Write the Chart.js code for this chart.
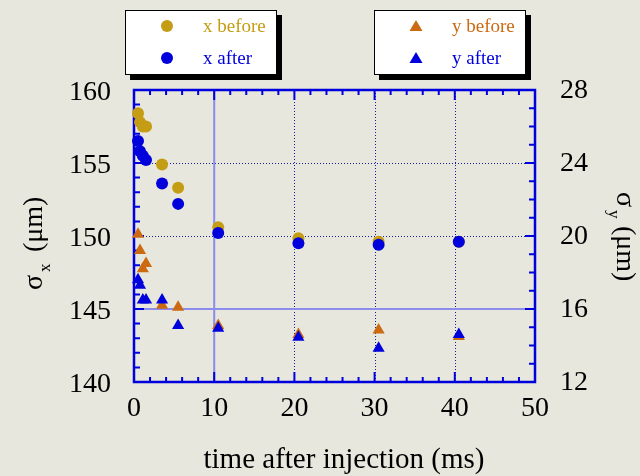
<!DOCTYPE html>
<html>
<head>
<meta charset="utf-8">
<script src="https://cdn.jsdelivr.net/npm/chart.js@4.4.1/dist/chart.umd.min.js"></script>
<style>
  html, body { margin: 0; padding: 0; background: #e7e7dd; }
  #wrap { width: 640px; height: 476px; }
</style>
</head>
<body>
<div id="wrap"><canvas id="beam" width="640" height="476"></canvas></div>
<script>
// time after injection (ms)
const times = [0.5, 0.75, 1.1, 1.5, 3.5, 5.5, 10.5, 20.5, 30.5, 40.5];
// horizontal beam size (um), left axis
const xBefore = [158.4, 157.8, 157.5, 157.5, 154.9, 153.3, 150.6, 149.85, 149.6, 149.6];
const xAfter = [156.5, 155.8, 155.5, 155.2, 153.6, 152.2, 150.2, 149.5, 149.4, 149.6];
// vertical beam size (um), right axis
const yBefore = [20.1, 19.2, 18.2, 18.5, 16.2, 16.1, 15.1, 14.6, 14.85, 14.5];
const yAfter = [17.6, 17.3, 16.5, 16.5, 16.5, 15.1, 14.95, 14.45, 13.85, 14.6];

const xTicks = [0, 10, 20, 30, 40, 50];
const sxTicks = [140, 145, 150, 155, 160];
const syTicks = [12, 16, 20, 24, 28];

const GOLD = '#c49d14';
const ORANGE = '#cc6a12';
const BLUE = '#0000dd';
const SERIF = '"Liberation Serif", "Times New Roman", serif';

const pts = (xs, ys) => xs.map((t, i) => ({ x: t, y: ys[i] }));

// frame, grid and inward tick marks
const frame = {
  id: 'frame',
  beforeDatasetsDraw(chart) {
    const { ctx, chartArea: a, scales } = chart;
    const x = scales.x, y = scales.y, y2 = scales.y2;
    ctx.save();
    // dotted grid
    ctx.strokeStyle = '#1a1aa8';
    ctx.lineWidth = 1;
    ctx.setLineDash([1, 2]);
    [20, 30, 40].forEach(v => {
      const px = Math.round(x.getPixelForValue(v)) + 0.5;
      ctx.beginPath(); ctx.moveTo(px, a.top); ctx.lineTo(px, a.bottom); ctx.stroke();
    });
    [150, 155].forEach(v => {
      const py = Math.round(y.getPixelForValue(v)) + 0.5;
      ctx.beginPath(); ctx.moveTo(a.left, py); ctx.lineTo(a.right, py); ctx.stroke();
    });
    // solid light grid
    ctx.setLineDash([]);
    ctx.strokeStyle = '#8c8cec';
    ctx.lineWidth = 2;
    const gx = x.getPixelForValue(10);
    ctx.beginPath(); ctx.moveTo(gx, a.top); ctx.lineTo(gx, a.bottom); ctx.stroke();
    const gy = y.getPixelForValue(145);
    ctx.beginPath(); ctx.moveTo(a.left, gy); ctx.lineTo(a.right, gy); ctx.stroke();

    // ticks
    ctx.strokeStyle = BLUE;
    ctx.lineWidth = 2;
    ctx.beginPath();
    for (let v = 0; v <= 50; v += 2) {
      const px = x.getPixelForValue(v);
      const len = v % 10 === 0 ? 10 : 5;
      ctx.moveTo(px, a.bottom); ctx.lineTo(px, a.bottom - len);
      ctx.moveTo(px, a.top); ctx.lineTo(px, a.top + len);
    }
    for (let v = 140; v <= 160; v++) {
      const py = y.getPixelForValue(v);
      const len = v % 5 === 0 ? 10 : 6;
      ctx.moveTo(a.left, py); ctx.lineTo(a.left + len, py);
    }
    for (let v = 12; v <= 28; v++) {
      const py = y2.getPixelForValue(v);
      const len = v % 4 === 0 ? 10 : 6;
      ctx.moveTo(a.right, py); ctx.lineTo(a.right - len, py);
    }
    ctx.stroke();
    ctx.lineWidth = 2.5;
    ctx.strokeRect(a.left, a.top, a.right - a.left, a.bottom - a.top);
    ctx.restore();
  },
  afterDraw(chart) {
    const { ctx } = chart;
    ctx.save();
    ctx.fillStyle = '#000';
    ctx.textBaseline = 'alphabetic';

    // x title
    ctx.font = '29px ' + SERIF;
    ctx.textAlign = 'center';
    ctx.fillText('time after injection (ms)', 344, 468);
    ctx.textAlign = 'left';

    // left title: sigma_x (um)
    ctx.save();
    ctx.translate(42, 290);
    ctx.rotate(-Math.PI / 2);
    ctx.font = '28px ' + SERIF;
    ctx.fillText('σ', 0, 0);
    ctx.font = '17px ' + SERIF;
    ctx.fillText('x', 18, 8);
    ctx.font = '28px ' + SERIF;
    ctx.fillText('(μm)', 38, 0);
    ctx.restore();

    // right title: sigma_y (um)
    ctx.save();
    ctx.translate(617, 192);
    ctx.rotate(Math.PI / 2);
    ctx.font = '28px ' + SERIF;
    ctx.fillText('σ', 0, 0);
    ctx.font = '17px ' + SERIF;
    ctx.fillText('y', 18, 8);
    ctx.font = '28px ' + SERIF;
    ctx.fillText('(μm)', 34, 0);
    ctx.restore();

    // legend boxes
    const box = (left, entries) => {
      ctx.fillStyle = '#000';
      ctx.fillRect(left + 5, 15, 152, 65);
      ctx.fillStyle = '#fff';
      ctx.fillRect(left, 10, 152, 65);
      ctx.strokeStyle = '#000';
      ctx.lineWidth = 1;
      ctx.strokeRect(left + 0.5, 10.5, 151, 64);
      ctx.font = '19px ' + SERIF;
      ctx.textBaseline = 'middle';
      entries.forEach((e, i) => {
        const cy = 26 + i * 32;
        const mx = left + 42;
        ctx.fillStyle = e.color;
        ctx.beginPath();
        if (e.shape === 'circle') {
          ctx.arc(mx, cy, 6, 0, Math.PI * 2);
        } else {
          ctx.moveTo(mx, cy - 6); ctx.lineTo(mx + 6.5, cy + 5); ctx.lineTo(mx - 6.5, cy + 5);
          ctx.closePath();
        }
        ctx.fill();
        ctx.fillText(e.label, left + 78, cy + 1);
      });
    };
    box(125, [
      { label: 'x before', color: GOLD, shape: 'circle' },
      { label: 'x after', color: BLUE, shape: 'circle' }
    ]);
    box(374, [
      { label: 'y before', color: ORANGE, shape: 'tri' },
      { label: 'y after', color: BLUE, shape: 'tri' }
    ]);
    ctx.restore();
  }
};

const fixSize = (w, h) => scale => {
  if (w !== null) scale.width = w;
  if (h !== null) scale.height = h;
};

new Chart(document.getElementById('beam'), {
  type: 'scatter',
  data: {
    datasets: [
      { label: 'x after', data: pts(times, xAfter), yAxisID: 'y', pointStyle: 'circle',
        pointRadius: 6, backgroundColor: BLUE, borderWidth: 0, clip: false },
      { label: 'y after', data: pts(times, yAfter), yAxisID: 'y2', pointStyle: 'triangle',
        pointRadius: 7, backgroundColor: BLUE, borderWidth: 0, clip: false },
      { label: 'x before', data: pts(times, xBefore), yAxisID: 'y', pointStyle: 'circle',
        pointRadius: 6, backgroundColor: GOLD, borderWidth: 0, clip: false },
      { label: 'y before', data: pts(times, yBefore), yAxisID: 'y2', pointStyle: 'triangle',
        pointRadius: 7, backgroundColor: ORANGE, borderWidth: 0, clip: false }
    ]
  },
  options: {
    responsive: false,
    animation: false,
    layout: { padding: { top: 90 } },
    plugins: { legend: { display: false }, tooltip: { enabled: false } },
    scales: {
      x: {
        type: 'linear', min: 0, max: 50,
        afterFit: fixSize(null, 94),
        afterBuildTicks: s => { s.ticks = xTicks.map(v => ({ value: v })); },
        grid: { display: false, drawTicks: false },
        border: { display: false },
        ticks: { color: '#000', padding: 10, font: { family: SERIF, size: 28 } }
      },
      y: {
        position: 'left', min: 140, max: 160,
        afterFit: fixSize(134, null),
        afterBuildTicks: s => { s.ticks = sxTicks.map(v => ({ value: v })); },
        grid: { display: false, drawTicks: false },
        border: { display: false },
        ticks: { color: '#000', padding: 23, labelOffset: 3, font: { family: SERIF, size: 28 } }
      },
      y2: {
        position: 'right', min: 12, max: 28,
        afterFit: fixSize(105, null),
        afterBuildTicks: s => { s.ticks = syTicks.map(v => ({ value: v })); },
        grid: { display: false, drawTicks: false },
        border: { display: false },
        ticks: { color: '#000', padding: 25, labelOffset: 1, font: { family: SERIF, size: 28 } }
      }
    }
  },
  plugins: [frame]
});
</script>
</body>
</html>
